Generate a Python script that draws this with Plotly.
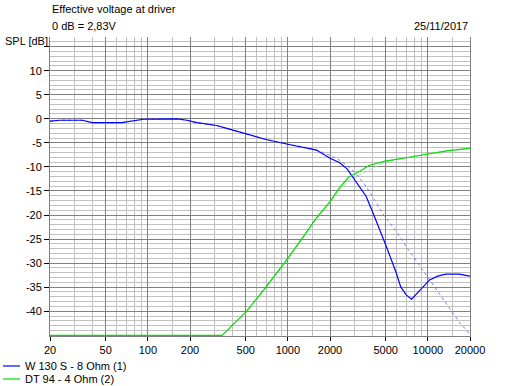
import plotly.graph_objects as go

# ---- data ----
w130_freq = [20, 23.5, 34, 40, 65, 83, 93, 162, 190, 224, 277, 310, 366, 505, 600, 700, 1000, 1370,
             1600, 2000, 2330, 2650, 2940, 3260, 3620, 4010, 4450, 4940, 5370, 5960, 6390, 7000,
             7650, 8350, 9270, 10300, 11750, 13450, 16700, 20000]
w130_spl = [-0.5, -0.3, -0.3, -0.8, -0.8, -0.4, -0.1, 0.0, -0.3, -0.8, -1.2, -1.4, -2.0, -3.2, -3.7, -4.3, -5.3, -6.1,
            -6.5, -8.2, -9.1, -10.4, -12.3, -14.0, -16.1, -19.2, -22.4, -25.8, -28.6, -32.1, -34.9, -36.6,
            -37.5, -36.3, -34.9, -33.5, -32.7, -32.3, -32.3, -32.7]

w130_ref_freq = [20, 23.5, 34, 40, 65, 83, 93, 162, 190, 224, 277, 310, 366, 505, 600, 700, 1000, 1370,
                 1500, 1750, 2000, 2250, 2650, 3100, 3620, 4230, 4940, 5960, 7000, 8350, 10000, 12100,
                 14000, 16700, 20000]
w130_ref_spl = [-0.5, -0.3, -0.3, -0.8, -0.8, -0.4, -0.1, 0.0, -0.3, -0.8, -1.2, -1.4, -2.0, -3.2, -3.7, -4.3, -5.3, -6.1,
                -6.2, -6.9, -7.6, -8.3, -9.7, -11.6, -14.0, -17.2, -20.4, -23.4, -26.6, -29.7, -33.0, -36.3,
                -39.1, -42.2, -44.8]

dt94_freq = [20, 100, 200, 340, 345, 500, 670, 870, 1000, 1290, 1600, 2000, 2330, 2720, 3260, 3800,
             4940, 7000, 10000, 14000, 20000]
dt94_spl = [-45, -45, -45, -45, -44.8, -40.2, -35.6, -31.4, -29.0, -24.5, -20.6, -17.2, -14.4, -12.1, -10.9, -9.7,
            -8.8, -8.1, -7.35, -6.6, -6.15]

dt94_ref_freq = [345, 500, 670, 870, 1000, 1290, 1600, 2000, 2330, 2720, 3260, 3600, 4200, 4940, 7000, 10000, 14000, 20000]
dt94_ref_spl = [-44.8, -40.4, -35.8, -31.6, -29.2, -24.7, -20.8, -17.5, -14.9, -12.8, -11.6, -11.0, -10.0, -9.0,
                -8.1, -7.35, -6.6, -6.15]

x_tick_vals = [20, 50, 100, 200, 500, 1000, 2000, 5000, 10000, 20000]
x_tick_text = ["20", "50", "100", "200", "500", "1000", "2000", "5000", "10000", "20000"]
x_minor_vals = [30, 40, 60, 70, 80, 90, 150, 300, 400, 600, 700, 800, 900, 1500,
                3000, 4000, 6000, 7000, 8000, 9000, 15000]
y_tick_vals = [-40, -35, -30, -25, -20, -15, -10, -5, 0, 5, 10, 15]
y_tick_text = ["-40", "-35", "-30", "-25", "-20", "-15", "-10", "-5", "0", "5", "10", ""]

series_names = ["W 130 S - 8 Ohm (1)", "DT 94 - 4 Ohm (2)"]
series_colors = ["#0000ff", "#00dd00"]

FONT = "Liberation Sans, Arial, sans-serif"
MAJOR = "#808080"
MINOR = "#c0c0c0"

fig = go.Figure()
fig.add_trace(go.Scatter(x=w130_ref_freq, y=w130_ref_spl, mode="lines",
                         line=dict(color="rgb(120,120,255)", width=1, dash="dot"),
                         showlegend=False, hoverinfo="skip"))
fig.add_trace(go.Scatter(x=dt94_ref_freq, y=dt94_ref_spl, mode="lines",
                         line=dict(color="rgb(150,225,150)", width=1, dash="dot"),
                         showlegend=False, hoverinfo="skip"))
fig.add_trace(go.Scatter(x=w130_freq, y=w130_spl, mode="lines", name=series_names[0],
                         line=dict(color=series_colors[0], width=1.2), showlegend=False))
fig.add_trace(go.Scatter(x=dt94_freq, y=dt94_spl, mode="lines", name=series_names[1],
                         line=dict(color=series_colors[1], width=1.2), showlegend=False))

# manual legend (bottom-left, outside plot area)
legend_shapes = []
legend_annots = []
for i, (name, col) in enumerate(zip(series_names, series_colors)):
    yp = -0.1003 - i * 0.0435
    legend_shapes.append(dict(type="line", xref="paper", yref="paper",
                              x0=-0.112, x1=-0.0714, y0=yp, y1=yp,
                              line=dict(color=col, width=1.2)))
    legend_annots.append(dict(text=name, xref="paper", yref="paper", x=-0.064, y=yp,
                              xanchor="left", yanchor="middle", showarrow=False,
                              font=dict(size=11)))

fig.update_layout(
    width=515, height=386,
    margin=dict(l=50, r=45, t=37, b=50, autoexpand=False),
    paper_bgcolor="white", plot_bgcolor="white",
    font=dict(family=FONT, size=11, color="black"),
    showlegend=False,
    xaxis=dict(type="log", range=[1.30103, 4.30103],
               tickvals=x_tick_vals, ticktext=x_tick_text, tickangle=0,
               showgrid=True, gridcolor=MAJOR, gridwidth=1,
               minor=dict(tickvals=x_minor_vals, showgrid=True, gridcolor=MINOR, gridwidth=1, ticks=""),
               showline=True, linecolor=MAJOR, linewidth=1, layer="below traces",
               ticks="outside", ticklen=4, tickcolor="black",
               zeroline=False, fixedrange=True, automargin=False),
    yaxis=dict(range=[-45.15, 17], tickvals=y_tick_vals, ticktext=y_tick_text,
               showgrid=True, gridcolor=MAJOR, gridwidth=1,
               minor=dict(dtick=1, showgrid=True, gridcolor=MINOR, gridwidth=1, ticks=""),
               showline=True, mirror=True, linecolor=MAJOR, linewidth=1, layer="below traces",
               ticks="outside", ticklen=5, tickcolor="black",
               zeroline=False, fixedrange=True, automargin=False),
    shapes=legend_shapes,
    annotations=[
        dict(text="Effective voltage at driver", xref="paper", yref="paper", x=0, y=1,
             xanchor="left", yanchor="bottom", yshift=20, showarrow=False, font=dict(size=11)),
        dict(text="0 dB = 2,83V", xref="paper", yref="paper", x=0, y=1,
             xanchor="left", yanchor="bottom", yshift=3, showarrow=False, font=dict(size=11)),
        dict(text="25/11/2017", xref="paper", yref="paper", x=1, y=1,
             xanchor="right", yanchor="bottom", yshift=3, showarrow=False, font=dict(size=11)),
        dict(text="SPL [dB]", xref="paper", yref="paper", x=-0.112, y=1,
             xanchor="left", yanchor="middle", yshift=-4, showarrow=False, font=dict(size=11)),
    ] + legend_annots,
)

# remove the browser's default 8px page margin so the figure fills the window exactly
fig.write_html("out.html", config={"displayModeBar": False},
               post_script="document.body.style.margin='0';")
